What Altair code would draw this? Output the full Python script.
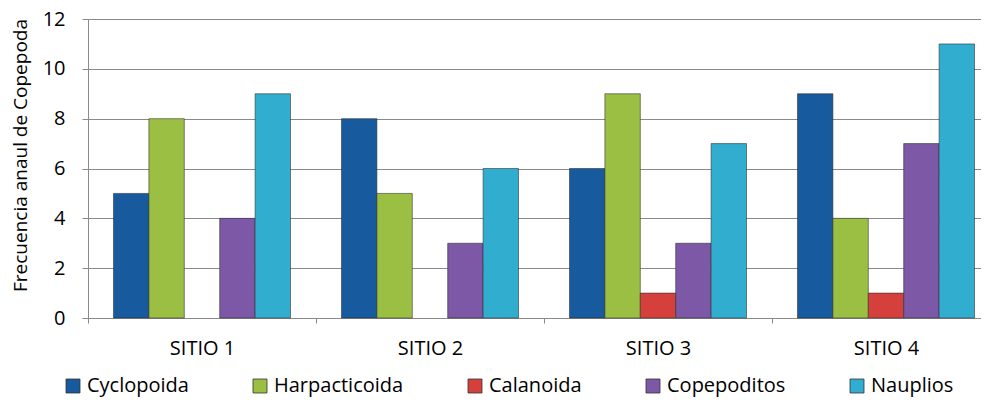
import altair as alt
import pandas as pd

sites = ["SITIO 1", "SITIO 2", "SITIO 3", "SITIO 4"]
groups = ["Cyclopoida", "Harpacticoida", "Calanoida", "Copepoditos", "Nauplios"]
cyclopoida = [5, 8, 6, 9]
harpacticoida = [8, 5, 9, 4]
calanoida = [0, 0, 1, 1]
copepoditos = [4, 3, 3, 7]
nauplios = [9, 6, 7, 11]
colors = ["#175A9E", "#9BBF42", "#D6403C", "#7D58A6", "#31ADCF"]

series = [cyclopoida, harpacticoida, calanoida, copepoditos, nauplios]
rows = []
for g, vals in zip(groups, series):
    for s, v in zip(sites, vals):
        rows.append({"sitio": s, "grupo": g, "valor": v})
df = pd.DataFrame(rows)

FONT = "Open Sans"

chart = (
    alt.Chart(df)
    .transform_filter("datum.valor > 0")
    .mark_bar(stroke="#2b2b2b", strokeWidth=0.8, strokeOpacity=0.7)
    .encode(
        x=alt.X(
            "sitio:N",
            sort=sites,
            title=None,
            scale=alt.Scale(paddingInner=0, paddingOuter=0, range=[0, 912]),
            axis=alt.Axis(
                labelAngle=0,
                labelFontSize=20,
                labelColor="#000000",
                labelFont=FONT,
                labelPadding=15,
                tickSize=5,
                tickBand="extent",
                tickColor="#8a8a8a",
                domainColor="#8a8a8a",
                grid=False,
            ),
        ),
        xOffset=alt.XOffset(
            "grupo:N",
            sort=groups,
            scale=alt.Scale(paddingInner=0, paddingOuter=0.72),
        ),
        y=alt.Y(
            "valor:Q",
            title="Frecuencia anaul de Copepoda",
            scale=alt.Scale(domain=[0, 12], nice=False),
            axis=alt.Axis(
                values=[0, 2, 4, 6, 8, 10, 12],
                labelFontSize=20,
                labelColor="#000000",
                labelFont=FONT,
                labelPadding=17,
                tickSize=6,
                tickColor="#8a8a8a",
                domainColor="#8a8a8a",
                gridColor="#8a8a8a",
                titleFontSize=19,
                titleFont=FONT,
                titleFontWeight="normal",
                titleColor="#000000",
                titleX=-58,
                titleY=136,
                titleAngle=270,
                titleAlign="center",
                titleBaseline="bottom",
            ),
        ),
        color=alt.Color(
            "grupo:N",
            sort=groups,
            scale=alt.Scale(domain=groups, range=colors),
            title=None,
            legend=alt.Legend(
                orient="none",
                legendX=-25,
                legendY=357,
                direction="horizontal",
                columns=5,
                symbolType="square",
                symbolSize=196,
                symbolStrokeWidth=0.8,
                symbolStrokeColor="#333333",
                labelFontSize=20,
                labelFont=FONT,
                labelColor="#000000",
                labelOffset=4,
                columnPadding=61,
                padding=0,
                labelLimit=300,
            ),
        ),
    )
    .properties(
        width=893,
        height=299,
        autosize=alt.AutoSizeParams(type="none"),
        padding={"left": 80, "top": 11, "right": 0, "bottom": 81},
    )
    .configure_view(stroke=None)
    .configure(font=FONT)
)

chart.save("out.html", embed_options={"renderer": "svg", "actions": False})
